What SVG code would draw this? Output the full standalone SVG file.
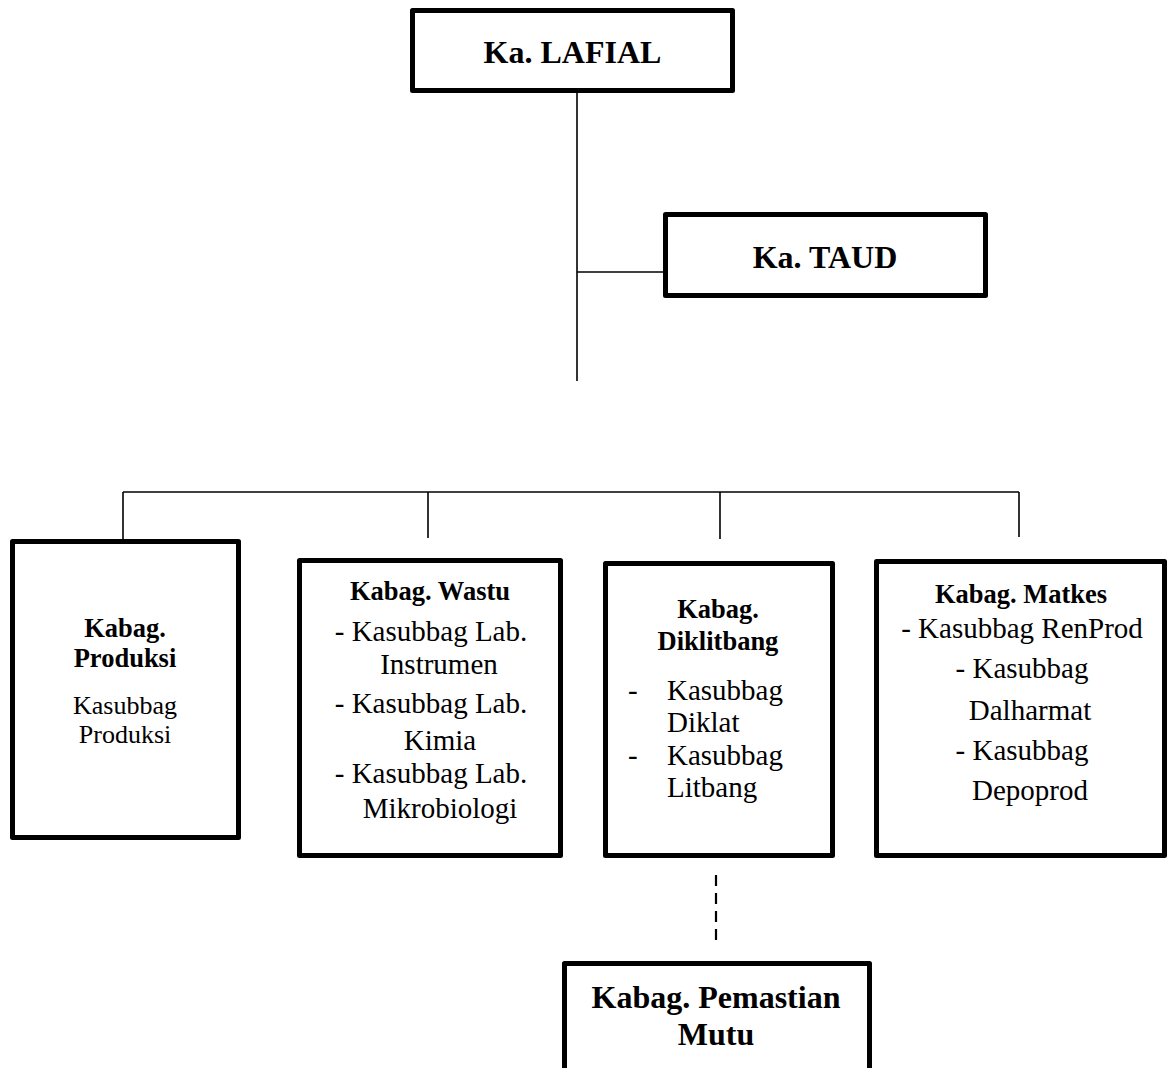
<svg xmlns="http://www.w3.org/2000/svg" width="1169" height="1068" viewBox="0 0 1169 1068">
<style>
.box{fill:#fff;stroke:#000;stroke-width:5;stroke-linejoin:round}
.ln{stroke:#000;stroke-width:1.6;fill:none}
.dash{stroke:#000;stroke-width:2.2;fill:none;stroke-dasharray:11 7}
text{font-family:"Liberation Serif","Times New Roman",serif;fill:#000}
.t{font-size:32px;font-weight:bold;text-anchor:middle}
.b{font-size:26.5px;font-weight:bold;text-anchor:middle}
.r{font-size:29px}
.rm{font-size:29px;text-anchor:middle}
.rs{font-size:26px;text-anchor:middle}
</style>
<rect width="1169" height="1068" fill="#fff"/>
<g id="connectors">
<line class="ln" x1="577" y1="93" x2="577" y2="381"/>
<line class="ln" x1="577" y1="272" x2="663" y2="272"/>
<line class="ln" x1="123" y1="492" x2="1019" y2="492"/>
<line class="ln" x1="123" y1="492" x2="123" y2="539"/>
<line class="ln" x1="428" y1="492" x2="428" y2="538"/>
<line class="ln" x1="720" y1="492" x2="720" y2="539"/>
<line class="ln" x1="1019" y1="492" x2="1019" y2="537"/>
<line class="dash" x1="716" y1="875" x2="716" y2="940"/>
</g>
<g id="lafial">
<rect class="box" x="412.5" y="10.5" width="320" height="80"/>
<text class="t" x="572.5" y="63">Ka. LAFIAL</text>
</g>
<g id="taud">
<rect class="box" x="665.5" y="214.5" width="320" height="81"/>
<text class="t" x="825" y="268">Ka. TAUD</text>
</g>
<g id="produksi">
<rect class="box" x="12.5" y="541.5" width="226" height="296"/>
<text class="b" x="125" y="637">Kabag.</text>
<text class="b" x="125" y="667">Produksi</text>
<text class="rs" x="125" y="714">Kasubbag</text>
<text class="rs" x="125" y="743">Produksi</text>
</g>
<g id="wastu">
<rect class="box" x="299.5" y="560.5" width="261" height="295"/>
<text class="b" x="430" y="600">Kabag. Wastu</text>
<text class="rm" x="431" y="641">- Kasubbag Lab.</text>
<text class="rm" x="439" y="674">Instrumen</text>
<text class="rm" x="431" y="713">- Kasubbag Lab.</text>
<text class="rm" x="440" y="750">Kimia</text>
<text class="rm" x="431" y="783">- Kasubbag Lab.</text>
<text class="rm" x="440" y="818">Mikrobiologi</text>
</g>
<g id="diklitbang">
<rect class="box" x="605.5" y="563.5" width="227" height="292"/>
<text class="b" x="718" y="618">Kabag.</text>
<text class="b" x="718" y="650">Diklitbang</text>
<text class="r" x="628" y="700">-</text>
<text class="r" x="667" y="700">Kasubbag</text>
<text class="r" x="667" y="732">Diklat</text>
<text class="r" x="628" y="765">-</text>
<text class="r" x="667" y="765">Kasubbag</text>
<text class="r" x="667" y="797">Litbang</text>
</g>
<g id="matkes">
<rect class="box" x="876.5" y="561.5" width="288" height="294"/>
<text class="b" x="1021" y="603">Kabag. Matkes</text>
<text class="rm" x="1022" y="638">- Kasubbag RenProd</text>
<text class="rm" x="1022" y="678">- Kasubbag</text>
<text class="rm" x="1030" y="720">Dalharmat</text>
<text class="rm" x="1022" y="760">- Kasubbag</text>
<text class="rm" x="1030" y="800">Depoprod</text>
</g>
<g id="pemastian">
<rect class="box" x="564.5" y="963.5" width="305" height="130"/>
<text class="t" x="716" y="1008">Kabag. Pemastian</text>
<text class="t" x="716" y="1045">Mutu</text>
</g>
</svg>
